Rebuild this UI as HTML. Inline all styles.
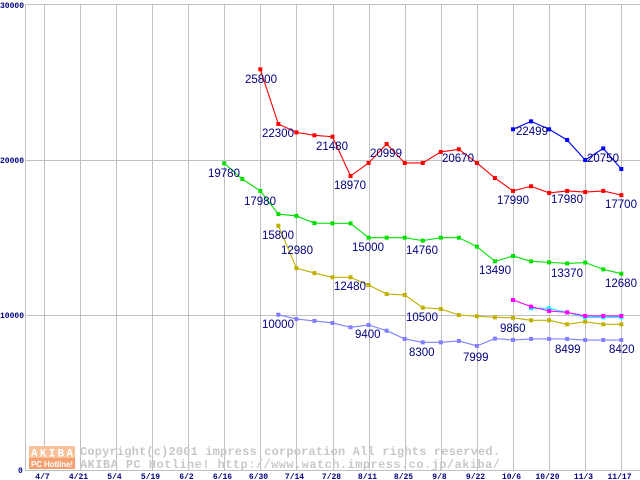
<!DOCTYPE html>
<html><head><meta charset="utf-8"><style>
html,body{margin:0;padding:0;background:#fff;}
svg{display:block;}
</style></head><body>
<svg id="s" width="640" height="480" xmlns="http://www.w3.org/2000/svg" font-family="Liberation Sans, sans-serif">
<rect width="640" height="480" fill="#fff"/>
<g id="grid" stroke="#c0c0c0" stroke-width="1"></g>
<g id="wm">
<rect x="29" y="446" width="46" height="12" fill="#f9c09a"/>
<rect x="29" y="458" width="46" height="11" fill="#f4a070"/>
<text x="52" y="456.5" text-anchor="middle" font-size="11" font-weight="bold" fill="#fff" textLength="42" font-family="Liberation Mono, monospace">AKIBA</text>
<text x="52" y="467" text-anchor="middle" font-size="8" font-weight="bold" fill="#fff" textLength="42">PC Hotline!</text>
<text x="80" y="455" font-size="12" font-weight="bold" fill="#c8c8c8" font-family="Liberation Mono, monospace" textLength="420">Copyright(c)2001 impress corporation All rights reserved.</text>
<text x="80" y="468" font-size="12" font-weight="bold" fill="#c8c8c8" font-family="Liberation Mono, monospace" textLength="420">AKIBA PC Hotline!  http://www.watch.impress.co.jp/akiba/</text>
</g>
<g id="series"></g>
<g id="labels" font-size="11.5" fill="#000080"></g>
<g id="axis" font-size="8" font-weight="bold" fill="#000080" font-family="Liberation Mono, monospace"></g>
</svg>
<script>
var NS="http://www.w3.org/2000/svg";
function el(p,t,a,txt){var e=document.createElementNS(NS,t);for(var k in a)e.setAttribute(k,a[k]);if(txt!=null)e.textContent=txt;p.appendChild(e);return e;}
var g=document.getElementById('grid'),ax=document.getElementById('axis');
var X0=43.7,DX=36.1;
function X(w){return X0+w*DX/2;}
function Y(v){return 470-v*0.01553;}
var dates=["4/7","4/21","5/4","5/19","6/2","6/16","6/30","7/14","7/28","8/11","8/25","9/8","9/22","10/6","10/20","11/3","11/17"];
for(var i=0;i<17;i++){var x=Math.round(X(i*2))+0.5;el(g,'line',{x1:x,y1:4,x2:x,y2:470});el(ax,'text',{x:x-2,y:479,'text-anchor':'middle'},dates[i]);}
[4,160,315].forEach(function(y){el(g,'line',{x1:25,y1:y+0.5,x2:640,y2:y+0.5});});
el(g,'line',{x1:25.5,y1:4,x2:25.5,y2:470});
el(g,'line',{x1:25,y1:470.5,x2:640,y2:470.5});
el(ax,'text',{x:0,y:8},"30000");el(ax,'text',{x:0,y:163},"20000");el(ax,'text',{x:0,y:318},"10000");el(ax,'text',{x:18,y:473},"0");
var S=[
["#ff0000",12,[25800,22280,21740,21550,21460,18930,19770,20990,19770,19770,20480,20650,19770,18800,17970,18270,17840,17970,17900,17970,17700]],
["#0000ff",26,[21940,22450,21940,21250,19960,20710,19380]],
["#00e000",10,[19750,18740,17970,16480,16360,15900,15880,15880,14960,14960,14960,14770,14960,14960,14380,13440,13780,13440,13370,13300,13360,12920,12640]],
["#c0b000",13,[15730,13000,12680,12410,12410,11910,11330,11270,10450,10370,9980,9900,9830,9800,9640,9640,9380,9550,9380,9380]],
["#8080ff",13,[10000,9720,9600,9470,9190,9340,8970,8440,8220,8220,8310,7990,8460,8370,8440,8440,8440,8370,8370,8370]],
["#00ffff",27,[10410,10410,10150,9830,9830,9830]],
["#ff00ff",26,[10950,10520,10240,10150,9920,9920,9920]]
];
var sg=document.getElementById('series');
S.forEach(function(s){var pts=s[2].map(function(v,i){return [X(s[1]+i),Y(v)];});
el(sg,'polyline',{points:pts.map(function(p){return p.join(',');}).join(' '),fill:'none',stroke:s[0],'stroke-width':1.1});
pts.forEach(function(p){el(sg,'rect',{x:p[0]-2,y:p[1]-2,width:4,height:4,fill:s[0]});});});
var L=[["25800",245,83],["22300",262,137],["21480",316,150],["20999",370,157],["18970",334,189],["20670",442,162],["22499",516,135],["20750",587,162],["17990",497,204],["17980",551,203],["17700",605,208],["19780",208,177],["17980",244,205],["15800",262,239],["15000",352,251],["14760",406,254],["13490",479,274],["13370",551,277],["12680",605,287],["12980",281,254],["12480",334,290],["10500",406,321],["9860",500,332],["10000",262,328],["9400",355,338],["8300",409,356],["7999",463,361],["8499",555,353],["8420",609,353]];
var lg=document.getElementById('labels');
L.forEach(function(l){el(lg,'text',{x:l[1],y:l[2]},l[0]);});
</script>
</body></html>
